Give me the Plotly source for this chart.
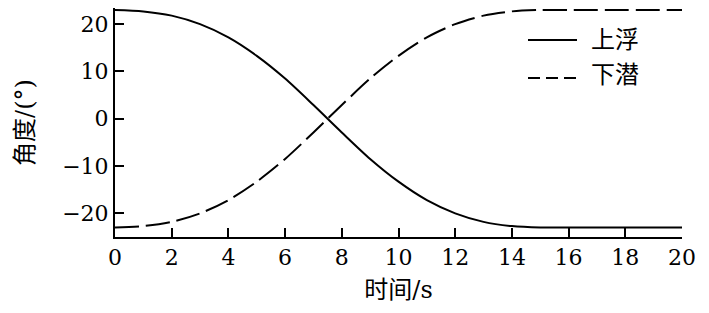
import plotly.graph_objects as go

# Data
time_s = [0, 1, 2, 3, 4, 5, 6, 7, 8, 9, 10, 11, 12, 13, 14, 15, 16, 17, 18, 19, 20]
ascent = [23.0, 22.7, 21.8, 20.0, 17.2, 13.3, 8.5, 2.9, -2.9, -8.5, -13.3, -17.2, -20.0,
          -21.8, -22.7, -23.0, -23.0, -23.0, -23.0, -23.0, -23.0]
descent = [-23.0, -22.7, -21.8, -20.0, -17.2, -13.3, -8.5, -2.9, 2.9, 8.5, 13.3, 17.2, 20.0,
           21.8, 22.7, 23.0, 23.0, 23.0, 23.0, 23.0, 23.0]
series_names = ["上浮", "下潜"]
x_ticks = [0, 2, 4, 6, 8, 10, 12, 14, 16, 18, 20]
y_ticks = [-20, -10, 0, 10, 20]

NUM_FONT = "DejaVu Serif"
CJK_FONT = "DejaVu Serif, Noto Sans CJK SC"

fig = go.Figure()
fig.add_trace(go.Scatter(x=time_s, y=ascent, mode="lines", name=series_names[0],
                         line=dict(color="black", width=2, shape="spline", smoothing=0.8),
                         showlegend=False))
fig.add_trace(go.Scatter(x=time_s, y=descent, mode="lines", name=series_names[1],
                         line=dict(color="black", width=2, shape="spline", smoothing=0.8,
                                   dash="24px,7px"),
                         showlegend=False))

# The page has an 8px body margin; lay the figure out so the plot lands where the
# reference has it (left axis at x=115, bottom axis at y=237 in the window).
W, H = 701, 305
L, B = 107, 76
R = W - 674

def px(xw):
    return (xw - 8 - L) / (W - L - R)

def py(yw):
    return (H - B - (yw - 8)) / (H - B)

fig.add_shape(type="line", xref="paper", yref="paper", x0=px(528), x1=px(577), y0=py(40), y1=py(40),
              line=dict(color="black", width=2))
fig.add_shape(type="line", xref="paper", yref="paper", x0=px(528), x1=px(577), y0=py(78), y1=py(78),
              line=dict(color="black", width=2, dash="12px,6px"))
fig.add_annotation(xref="paper", yref="paper", x=px(589), y=py(40), text=series_names[0],
                   showarrow=False, xanchor="left", yanchor="middle",
                   font=dict(family=CJK_FONT, size=24, color="black"))
fig.add_annotation(xref="paper", yref="paper", x=px(589), y=py(75), text=series_names[1],
                   showarrow=False, xanchor="left", yanchor="middle",
                   font=dict(family=CJK_FONT, size=24, color="black"))

axis_common = dict(showline=True, linecolor="black", linewidth=2, ticks="inside",
                   ticklen=9, tickwidth=2, tickcolor="black", showgrid=False, zeroline=False,
                   mirror=False, automargin=False,
                   tickfont=dict(family=NUM_FONT, size=22, color="black"))

y_top = -25 + (H - B) / 4.73

fig.update_xaxes(range=[0, 20], tickvals=x_ticks,
                 title=dict(text="时间/s", font=dict(family=CJK_FONT, size=24, color="black"),
                            standoff=12),
                 **axis_common)
fig.update_yaxes(range=[-25, y_top], tickvals=y_ticks,
                 title=dict(text="角度/(°)", font=dict(family=CJK_FONT, size=24, color="black"),
                            standoff=22),
                 **axis_common)

fig.update_layout(width=W, height=H, margin=dict(l=L, r=R, t=0, b=B),
                  plot_bgcolor="white", paper_bgcolor="white",
                  font=dict(family=NUM_FONT, size=22, color="black"))

fig.write_html("out.html")
